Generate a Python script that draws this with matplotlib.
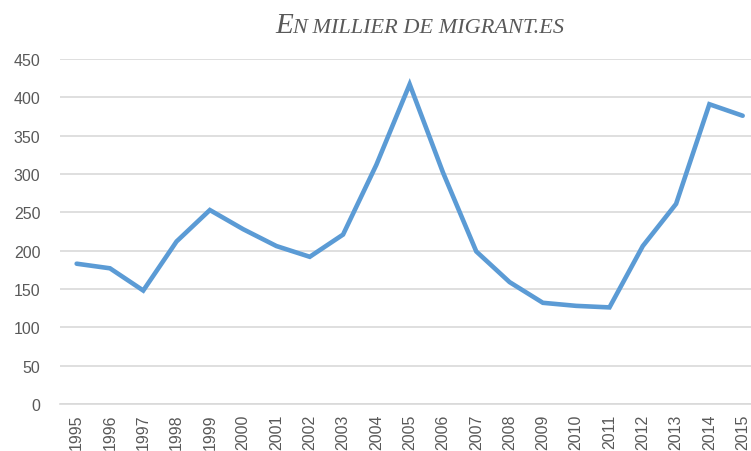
import matplotlib.pyplot as plt

# --- DATA ---
years = [str(y) for y in range(1995, 2016)]
migrants = [183, 177, 148, 212, 253, 228, 206, 192, 221, 312, 417,
            302, 199, 159, 132, 128, 126, 206, 261, 391, 376]
y_ticks = [0, 50, 100, 150, 200, 250, 300, 350, 400, 450]

W, H = 751, 452
fig = plt.figure(figsize=(W / 100, H / 100), dpi=100)

# plot area in pixel coords -> figure fractions
left, right, top, bottom = 60, 751, 60, 405
ax = fig.add_axes([left / W, 1 - bottom / H, (right - left) / W, (bottom - top) / H])

x = list(range(len(years)))
ax.plot(x, migrants, color='#5B9BD5', linewidth=3.3, solid_joinstyle='miter',
        solid_capstyle='round', zorder=3)

ax.set_ylim(0, 450)
ax.set_xlim(-0.5, 20.25)
ax.set_yticks(y_ticks)
ax.set_xticks(x)
ax.set_xticklabels(years, rotation=90)
ax.grid(axis='y', color='#D9D9D9', linewidth=1.2)
ax.set_axisbelow(True)
for s in ['top', 'right', 'left']:
    ax.spines[s].set_visible(False)
ax.spines['bottom'].set_color('#D9D9D9')
ax.spines['bottom'].set_linewidth(1.2)
ax.tick_params(axis='both', length=0, colors='#595959', labelsize=11.5)
ax.tick_params(axis='y', pad=14)
ax.tick_params(axis='x', pad=7)
for lab in ax.get_xticklabels() + ax.get_yticklabels():
    lab.set_fontfamily('Liberation Sans')

# small-caps italic title
fig.text(275 / W, 1 - 33 / H, 'E', fontsize=21, fontstyle='italic',
         family='Liberation Serif', color='#595959', va='baseline', ha='left')
fig.text(292 / W, 1 - 33 / H, 'N MILLIER DE MIGRANT.ES', fontsize=16,
         fontstyle='italic', family='Liberation Serif', color='#595959',
         va='baseline', ha='left')

plt.savefig('out.png', dpi=100)
